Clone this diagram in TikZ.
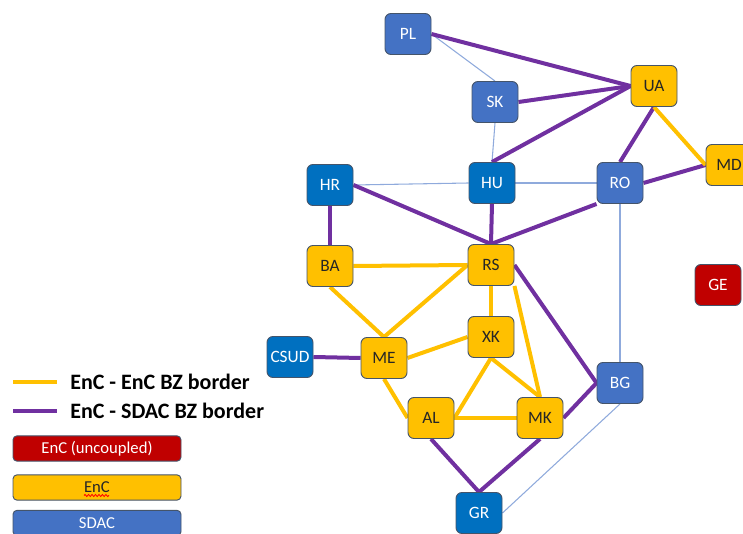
\documentclass[tikz,border=0pt]{standalone}
\usepackage{fontspec}
\setmainfont{Carlito}
\usetikzlibrary{decorations.pathmorphing}
\pgfdeclarelayer{links}
\pgfsetlayers{links,main}
\definecolor{sdac}{HTML}{4472C4}
\definecolor{sdacdk}{HTML}{0070C0}
\definecolor{enc}{HTML}{FFC000}
\definecolor{uncpl}{HTML}{C00000}
\definecolor{bzpurple}{HTML}{7030A0}
\definecolor{thinlink}{HTML}{8FAADC}
\definecolor{boxedge}{HTML}{44546A}
\begin{document}
\begin{tikzpicture}[x=0.75pt,y=-0.75pt,
  zone/.style={draw=boxedge, line width=0.7pt, rounded corners=4.5pt,
    minimum width=34.5pt, minimum height=30.75pt, inner sep=0pt,
    font=\fontsize{13}{15}\selectfont},
  sdacA/.style={zone, fill=sdac, text=white},
  sdacB/.style={zone, fill=sdacdk, text=white},
  encz/.style={zone, fill=enc, text=black!85},
  uncz/.style={zone, fill=uncpl, text=white},
  encline/.style={enc, line width=3pt},
  sdacline/.style={bzpurple, line width=3pt},
  weakline/.style={thinlink, line width=0.8pt},
  keybox/.style={draw=boxedge, line width=0.7pt, rounded corners=3pt,
    minimum width=126pt, minimum height=19pt, inner sep=0pt,
    font=\fontsize{12.5}{14}\selectfont},
  keytext/.style={anchor=west, inner sep=0pt, font=\fontsize{16.5}{18}\bfseries\selectfont},
]
\useasboundingbox (0,0) rectangle (743,534);

% bidding zones
\node[sdacA] (PL) at (408,34) {PL};
\node[sdacA] (SK) at (495,102) {SK};
\node[encz]  (UA) at (654,86) {UA};
\node[encz]  (MD) at (729,165) {MD};
\node[sdacB] (HU) at (492,183) {HU};
\node[sdacA] (RO) at (620,183) {RO};
\node[sdacB] (HR) at (330,185) {HR};
\node[encz]  (BA) at (330,266) {BA};
\node[encz]  (RS) at (491,265) {RS};
\node[uncz]  (GE) at (718,285) {GE};
\node[sdacB] (CSUD) at (290,357) {CSUD};
\node[encz]  (ME) at (384,358) {ME};
\node[encz]  (XK) at (491,337) {XK};
\node[encz]  (AL) at (431,418) {AL};
\node[encz]  (MK) at (540,418) {MK};
\node[sdacA] (BG) at (620,383) {BG};
\node[sdacB] (GR) at (479,513) {GR};

\begin{pgfonlayer}{links}
  % SDAC - SDAC borders
  \draw[weakline] (PL.east) -- (SK.north);
  \draw[weakline] (SK.south) -- (HU.north);
  \draw[weakline] (HR.east) -- (HU.west);
  \draw[weakline] (HU.east) -- (RO.west);
  \draw[weakline] (RO.south) -- (BG.north);
  \draw[weakline] (BG.south) -- (GR.east);
  % EnC - SDAC borders
  \draw[sdacline] (PL.east) -- (UA.west);
  \draw[sdacline] (SK.east) -- (UA.west);
  \draw[sdacline] (HU.north) -- (UA.west);
  \draw[sdacline] (UA.south) -- (RO.north);
  \draw[sdacline] (RO.east) -- (MD.west);
  \draw[sdacline] (HR.south) -- (BA.north);
  \draw[sdacline] (HR.east) -- (RS.north);
  \draw[sdacline] (HU.south) -- (RS.north);
  \draw[sdacline] (RO.south west) -- (RS.north);
  \draw[sdacline] (RS.east) -- (BG.west);
  \draw[sdacline] (BG.west) -- (MK.east);
  \draw[sdacline] (CSUD.east) -- (ME.west);
  \draw[sdacline] (AL.south) -- (GR.north);
  \draw[sdacline] (MK.south) -- (GR.north);
  % EnC - EnC borders
  \draw[encline] (UA.south) -- (MD.west);
  \draw[encline] (BA.east) -- (RS.west);
  \draw[encline] (BA.south) -- (ME.north);
  \draw[encline] (ME.north) -- (RS.west);
  \draw[encline] (ME.east) -- (XK.west);
  \draw[encline] (ME.south) -- (AL.west);
  \draw[encline] (RS.south) -- (XK.north);
  \draw[encline] (RS.south east) -- (MK.north);
  \draw[encline] (XK.south) -- (AL.east);
  \draw[encline] (XK.south) -- (MK.north);
  \draw[encline] (AL.east) -- (MK.west);
\end{pgfonlayer}

% legend
\coordinate (ka) at (13,382);
\coordinate (kb) at (57,382);
\draw[encline] (ka) -- (kb);
\node[keytext] (kenc) at (70,382) {EnC - EnC BZ border};
\coordinate (kc) at (13,411);
\coordinate (kd) at (57,411);
\draw[sdacline] (kc) -- (kd);
\node[keytext] (ksdac) at (70,411) {EnC - SDAC BZ border};

\node[keybox, fill=uncpl, text=white] (kunc) at (97,448.5) {EnC (uncoupled)};
\node[keybox, fill=enc, text=black!85] (kencbox) at (97,487.5) {EnC};
\node[keybox, fill=sdac, text=white] (ksdacbox) at (97,523) {SDAC};
\coordinate (wa) at (84,495.5);
\coordinate (wb) at (109,495.5);
\draw[red, line width=0.6pt, decorate,
  decoration={snake, amplitude=0.8pt, segment length=2.6pt}] (wa) -- (wb);
\end{tikzpicture}
\end{document}
